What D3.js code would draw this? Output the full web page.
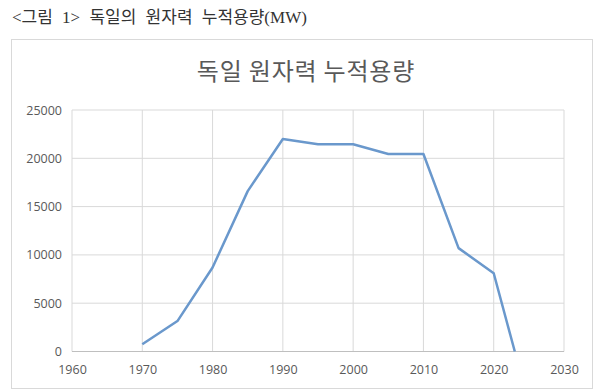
<!DOCTYPE html>
<html><head><meta charset="utf-8">
<script src="https://cdn.jsdelivr.net/npm/d3@7"></script>
<style>body{margin:0;background:#fff}svg{display:block}</style>
</head><body>
<script>
const years = [1970, 1975, 1980, 1985, 1990, 1995, 2000, 2005, 2010, 2015, 2020, 2023];
const capacity = [750, 3150, 8700, 16600, 22000, 21450, 21450, 20450, 20450, 10700, 8100, 0];
const xTicks = [1960, 1970, 1980, 1990, 2000, 2010, 2020, 2030];
const yTicks = [0, 5000, 10000, 15000, 20000, 25000];
const caption = "<그림 1> 독일의 원자력 누적용량(MW)";
const title = "독일 원자력 누적용량";

const W = 600, H = 392;
const svg = d3.select("body").append("svg").attr("width", W).attr("height", H);

svg.append("text").attr("x", 12).attr("y", 23)
  .attr("font-family", "'Liberation Serif','Noto Sans CJK KR',serif")
  .attr("font-size", 17).attr("word-spacing", 5).attr("fill", "#333").text(caption);

svg.append("rect").attr("x", 11.5).attr("y", 39.5).attr("width", 581).attr("height", 349)
  .attr("fill", "#fff").attr("stroke", "#d9d9d9");

svg.append("text").attr("x", 306).attr("y", 80).attr("text-anchor", "middle")
  .attr("font-family", "'Noto Sans CJK KR',sans-serif").attr("font-size", 24)
  .attr("letter-spacing", 0.8).attr("fill", "#595959").text(title);

const x = d3.scaleLinear().domain([1960, 2030]).range([72, 564]);
const y = d3.scaleLinear().domain([0, 25000]).range([351.5, 110]);

const g = svg.append("g");
g.selectAll("line.v").data(xTicks).join("line")
  .attr("x1", d => x(d)).attr("x2", d => x(d)).attr("y1", y(25000)).attr("y2", y(0))
  .attr("stroke", "#d9d9d9").attr("stroke-width", 1);
g.selectAll("line.h").data(yTicks).join("line")
  .attr("x1", x(1960)).attr("x2", x(2030)).attr("y1", d => y(d)).attr("y2", d => y(d))
  .attr("stroke", d => d === 0 ? "#bfbfbf" : "#d9d9d9").attr("stroke-width", 1);

const yAxis = d3.axisLeft(y).tickValues(yTicks).tickSize(0).tickPadding(10).tickFormat(d3.format("d"));
const ya = svg.append("g").attr("transform", `translate(${x(1960)},0)`).call(yAxis);
ya.select(".domain").remove();
ya.selectAll("text").attr("font-family", "'Open Sans','Noto Sans',sans-serif").attr("font-size", 12.5).attr("fill", "#595959");

const xAxis = d3.axisBottom(x).tickValues(xTicks).tickSize(0).tickPadding(14).tickFormat(d3.format("d"));
const xa = svg.append("g").attr("transform", `translate(0,${y(0)})`).call(xAxis);
xa.select(".domain").remove();
xa.selectAll("text").attr("font-family", "'Open Sans','Noto Sans',sans-serif").attr("font-size", 12.5).attr("fill", "#595959");

const line = d3.line().x((d, i) => x(years[i])).y(d => y(d));
svg.append("path").datum(capacity).attr("d", line)
  .attr("fill", "none").attr("stroke", "#6a98cc").attr("stroke-width", 2.5)
  .attr("stroke-linejoin", "round");
</script>
</body></html>
